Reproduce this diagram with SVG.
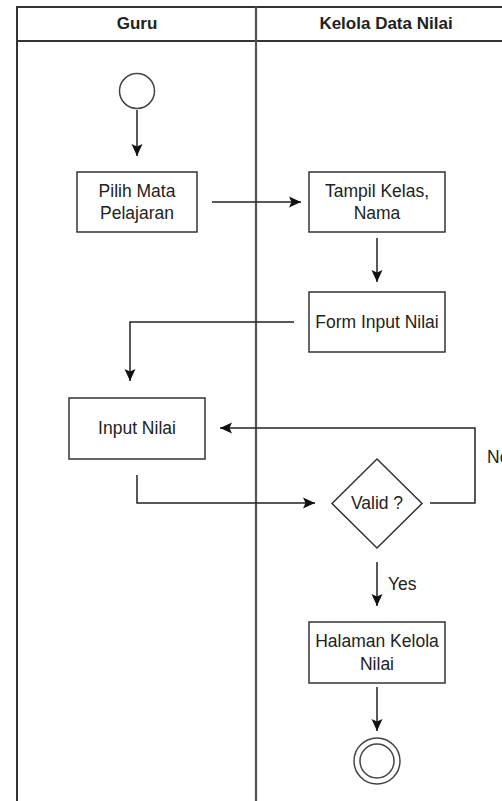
<svg xmlns="http://www.w3.org/2000/svg" width="502" height="801" viewBox="0 0 502 801">
<style>
.frame{fill:none;stroke:#333;stroke-width:2}
.box{fill:#fff;stroke:#333;stroke-width:1.5}
.conn{fill:none;stroke:#222;stroke-width:1.5}
text{font-family:"Liberation Sans",Arial,sans-serif;font-size:17.5px;fill:#222;text-anchor:middle}
.hdr{font-weight:bold;font-size:17px}
.lbl{text-anchor:start}
</style>
<defs>
<marker id="arr" markerUnits="userSpaceOnUse" markerWidth="14" markerHeight="14" viewBox="0 0 14 14" refX="12" refY="7" orient="auto">
<path d="M0,1.5 L12,7 L0,12.5 L2.5,7 z" fill="#111"/>
</marker>
</defs>
<rect width="502" height="801" fill="#fff"/>
<g id="pool">
<path class="frame" d="M17,801 V7 H503"/>
<line class="frame" x1="17" y1="41" x2="503" y2="41"/>
<line x1="256" y1="7" x2="256" y2="801" stroke="#555" stroke-width="2.2"/>
<text class="hdr" x="137" y="29">Guru</text>
<text class="hdr" x="386" y="29">Kelola Data Nilai</text>
</g>
<g id="connectors">
<path class="conn" d="M137,110 V156" marker-end="url(#arr)"/>
<path class="conn" d="M212,202 H301" marker-end="url(#arr)"/>
<path class="conn" d="M377,238 V282" marker-end="url(#arr)"/>
<path class="conn" d="M294,322 H130 V381" marker-end="url(#arr)"/>
<path class="conn" d="M137,475 V503 H315" marker-end="url(#arr)"/>
<path class="conn" d="M430,503 H475 V428 H220" marker-end="url(#arr)"/>
<path class="conn" d="M377,562 V606" marker-end="url(#arr)"/>
<path class="conn" d="M377,687 V731" marker-end="url(#arr)"/>
<text class="lbl" x="388" y="590">Yes</text>
<text class="lbl" x="487" y="463">No</text>
</g>
<g id="start">
<circle cx="137" cy="91" r="17.5" fill="#fff" stroke="#444" stroke-width="1.5"/>
</g>
<g id="pilih">
<rect class="box" x="77" y="172" width="120" height="60"/>
<text x="137" y="197">Pilih Mata</text>
<text x="137" y="219">Pelajaran</text>
</g>
<g id="tampil">
<rect class="box" x="309" y="172" width="136" height="60"/>
<text x="377" y="197">Tampil Kelas,</text>
<text x="377" y="219">Nama</text>
</g>
<g id="form">
<rect class="box" x="309" y="292" width="136" height="60"/>
<text x="377" y="328">Form Input Nilai</text>
</g>
<g id="input">
<rect class="box" x="69" y="398" width="136" height="61"/>
<text x="137" y="434">Input Nilai</text>
</g>
<g id="valid">
<polygon class="box" points="377,459 422,503.5 377,548 332,503.5"/>
<text x="377" y="509">Valid ?</text>
</g>
<g id="halaman">
<rect class="box" x="309" y="622" width="136" height="61"/>
<text x="377" y="647">Halaman Kelola</text>
<text x="377" y="670">Nilai</text>
</g>
<g id="end">
<circle cx="377" cy="761" r="23" fill="#fff" stroke="#444" stroke-width="1.5"/>
<circle cx="377" cy="761" r="17" fill="#fff" stroke="#444" stroke-width="1.5"/>
</g>
</svg>
